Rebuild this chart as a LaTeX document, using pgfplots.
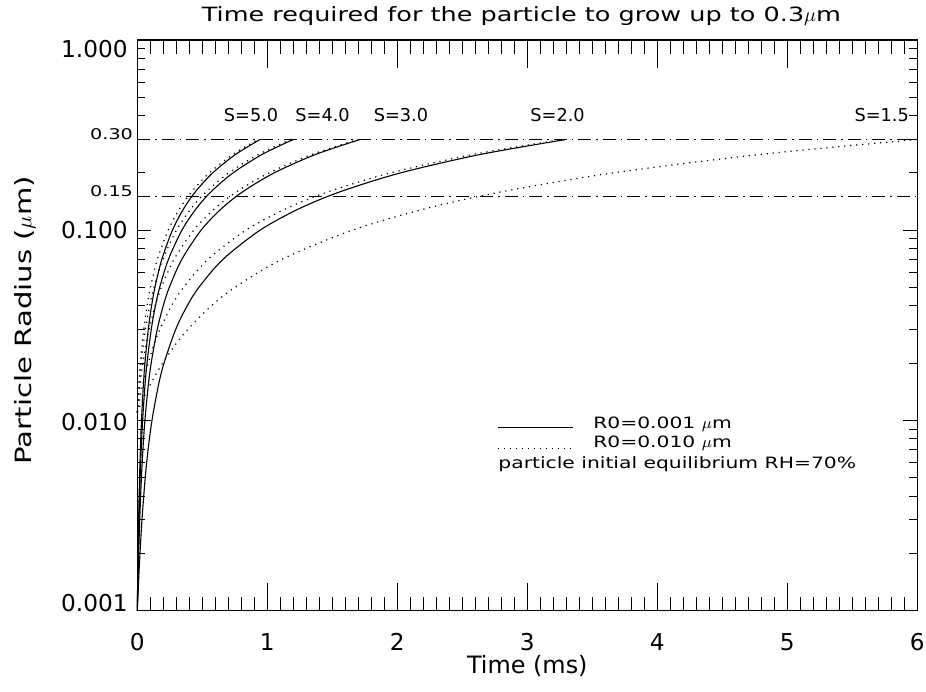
\documentclass[border=0pt]{standalone}
\usepackage{pgfplots}
\pgfplotsset{compat=1.18}
\usepackage{fontspec}
\setmainfont{DejaVu Sans}
\newfontfamily\wide{DejaVu Sans}[FakeStretch=1.3]

\begin{document}
\begin{tikzpicture}
% minor x ticks (short)
\begin{axis}[
  at={(0,0)}, anchor=south west,
  scale only axis, width=390bp, height=285.25bp,
  xmin=0, xmax=6, ymode=log, ymin=0.001, ymax=1,
  axis line style={line width=0.6bp},
  xtick style={line width=0.5bp, black},
  xtick={0,0.1,...,6.05}, xticklabels={},
  ytick=\empty, yminorticks=false,
  major tick length=7bp,
]
\end{axis}
% y ticks
\begin{axis}[
  at={(0,0)}, anchor=south west,
  scale only axis, width=390bp, height=285.25bp,
  xmin=0, xmax=6, ymode=log, ymin=0.001, ymax=1,
  axis line style={line width=0.6bp},
  ytick style={line width=0.5bp, black},
  xtick=\empty,
  ytick={0.001,0.01,0.1,1}, yticklabels={},
  major tick length=7bp, minor tick length=4bp,
]
\end{axis}

\begin{axis}[
  name=ax, at={(0,0)}, anchor=south west,
  scale only axis, width=390bp, height=285.25bp,
  xmin=0, xmax=6, ymode=log, ymin=0.001, ymax=1,
  axis line style={line width=0.6bp},
  clip=false,
  xtick={0,1,2,3,4,5,6}, xticklabels={0,1,2,3,4,5,6},
  xtick style={line width=0.5bp, black},
  ytick={0.001,0.01,0.1,1},
  yminorticks=false,
  yticklabels={\raisebox{3.75bp}{0.001},\raisebox{-0.75bp}{0.010},0.100,\raisebox{-4.25bp}{1.000}},
  ytick style={draw=none},
  major tick length=14bp,
  tick label style={font=\fontsize{11.65}{13}\selectfont},
  xticklabel style={anchor=north, inner sep=0pt, yshift=-11.25bp},
  yticklabel style={anchor=base east, inner sep=0pt, xshift=-4.65bp, yshift=-4.25bp},
]
% reference levels
\addplot[black, line width=0.5bp, dash pattern=on 6.5bp off 2.5bp on 0.75bp off 2.5bp] coordinates {(0,0.3) (6,0.3)};
\addplot[black, line width=0.5bp, dash pattern=on 6.5bp off 2.5bp on 0.75bp off 2.5bp] coordinates {(0,0.15) (6,0.15)};

% R0 = 0.001 (solid)
\addplot[black, line width=0.55bp, smooth, tension=0.5] coordinates {
(0,0.001) (0.00327,0.0015) (0.00592,0.002) (0.0103,0.003) (0.01746,0.005) (0.02372,0.007) (0.03235,0.01) (0.04583,0.015) (0.05884,0.02) (0.08436,0.03) (0.1098,0.04) (0.1355,0.05) (0.1881,0.07) (0.2704,0.1) (0.3574,0.13) (0.4493,0.16) (0.5797,0.2) (0.7552,0.25) (0.945,0.3)};
\addplot[black, line width=0.55bp, smooth, tension=0.5] coordinates {
(0,0.001) (0.00416,0.0015) (0.00751,0.002) (0.01308,0.003) (0.02218,0.005) (0.03012,0.007) (0.04108,0.01) (0.0582,0.015) (0.07471,0.02) (0.1071,0.03) (0.1394,0.04) (0.1721,0.05) (0.2388,0.07) (0.3433,0.1) (0.4538,0.13) (0.5706,0.16) (0.7361,0.2) (0.959,0.25) (1.2,0.3)};
\addplot[black, line width=0.55bp, smooth, tension=0.5] coordinates {
(0,0.001) (0.00594,0.0015) (0.01074,0.002) (0.01869,0.003) (0.03169,0.005) (0.04305,0.007) (0.0587,0.01) (0.08318,0.015) (0.1068,0.02) (0.1531,0.03) (0.1993,0.04) (0.2459,0.05) (0.3413,0.07) (0.4907,0.1) (0.6486,0.13) (0.8155,0.16) (1.052,0.2) (1.3706,0.25) (1.715,0.3)};
\addplot[black, line width=0.55bp, smooth, tension=0.5] coordinates {
(0,0.001) (0.01143,0.0015) (0.02066,0.002) (0.03597,0.003) (0.06098,0.005) (0.08283,0.007) (0.113,0.01) (0.16,0.015) (0.2055,0.02) (0.2946,0.03) (0.3835,0.04) (0.4732,0.05) (0.6567,0.07) (0.9441,0.1) (1.248,0.13) (1.569,0.16) (2.024,0.2) (2.637,0.25) (3.3,0.3)};

% R0 = 0.010 (dotted)
\addplot[black, line width=0.6bp, dash pattern=on 0.6bp off 2.4bp, smooth, tension=0.5] coordinates {
(0,0.011) (0.00271,0.012) (0.00804,0.014) (0.0159,0.017) (0.02366,0.02) (0.03649,0.025) (0.04926,0.03) (0.0749,0.04) (0.1012,0.05) (0.154,0.07) (0.2376,0.1) (0.3263,0.13) (0.4203,0.16) (0.5539,0.2) (0.7343,0.25) (0.93,0.3)};
\addplot[black, line width=0.6bp, dash pattern=on 0.6bp off 2.4bp, smooth, tension=0.5] coordinates {
(0,0.011) (0.00343,0.012) (0.0102,0.014) (0.02018,0.017) (0.03002,0.02) (0.0463,0.025) (0.0625,0.03) (0.09504,0.04) (0.1284,0.05) (0.1954,0.07) (0.3015,0.1) (0.4141,0.13) (0.5332,0.16) (0.7028,0.2) (0.9317,0.25) (1.18,0.3)};
\addplot[black, line width=0.6bp, dash pattern=on 0.6bp off 2.4bp, smooth, tension=0.5] coordinates {
(0,0.011) (0.00495,0.012) (0.01469,0.014) (0.02907,0.017) (0.04325,0.02) (0.06671,0.025) (0.09005,0.03) (0.1369,0.04) (0.185,0.05) (0.2815,0.07) (0.4344,0.1) (0.5965,0.13) (0.7682,0.16) (1.0125,0.2) (1.3423,0.25) (1.70,0.3)};
\addplot[black, line width=0.6bp, dash pattern=on 0.6bp off 2.4bp, smooth, tension=0.5] coordinates {
(0,0.011) (0.00952,0.012) (0.02825,0.014) (0.05592,0.017) (0.08319,0.02) (0.1283,0.025) (0.1732,0.03) (0.2634,0.04) (0.3558,0.05) (0.5415,0.07) (0.8355,0.1) (1.1474,0.13) (1.4777,0.16) (1.9476,0.2) (2.582,0.25) (3.27,0.3)};
\addplot[black, line width=0.6bp, dash pattern=on 0.6bp off 2.4bp, smooth, tension=0.5] coordinates {
(0,0.011) (0.0238,0.012) (0.0693,0.014) (0.1337,0.017) (0.195,0.02) (0.2927,0.025) (0.3869,0.03) (0.5696,0.04) (0.7506,0.05) (1.1064,0.07) (1.6536,0.1) (2.223,0.13) (2.82,0.16) (3.66,0.2) (4.787,0.25) (6.0,0.3)};

% level labels
\node[anchor=base east, inner sep=0pt, font=\wide\fontsize{7.4}{8}\selectfont] at ([xshift=-2bp]axis cs:0,0.3) {0.30};
\node[anchor=base east, inner sep=0pt, font=\wide\fontsize{7.4}{8}\selectfont] at ([xshift=-2bp]axis cs:0,0.15) {0.15};

% supersaturation labels
\node[anchor=base, inner sep=0pt, font=\fontsize{8.9}{10}\selectfont] at (axis cs:0.875,0.3715) {S=5.0};
\node[anchor=base, inner sep=0pt, font=\fontsize{8.9}{10}\selectfont] at (axis cs:1.425,0.3715) {S=4.0};
\node[anchor=base, inner sep=0pt, font=\fontsize{8.9}{10}\selectfont] at (axis cs:2.028,0.3715) {S=3.0};
\node[anchor=base, inner sep=0pt, font=\fontsize{8.9}{10}\selectfont] at (axis cs:3.233,0.3715) {S=2.0};
\node[anchor=base, inner sep=0pt, font=\fontsize{8.9}{10}\selectfont] at (axis cs:5.726,0.3715) {S=1.5};

% legend
\draw[black, line width=0.55bp] (axis cs:2.775,0.00919) -- (axis cs:3.352,0.00919);
\draw[black, line width=0.6bp, dash pattern=on 0.6bp off 2.4bp] (axis cs:2.775,0.00712) -- (axis cs:3.352,0.00712);
\node[anchor=base west, inner sep=0pt, font=\wide\fontsize{7.83}{9}\selectfont] at (axis cs:3.505,0.00908) {R0=0.001 $\mu$m};
\node[anchor=base west, inner sep=0pt, font=\wide\fontsize{7.83}{9}\selectfont] at (axis cs:3.505,0.00721) {R0=0.010 $\mu$m};
\node[anchor=base west, inner sep=0pt, font=\wide\fontsize{7.83}{9}\selectfont] at (axis cs:2.775,0.00559) {particle initial equilibrium RH=70\%};
\end{axis}

\node[anchor=base, inner sep=0pt, font=\wide\fontsize{9.85}{12}\selectfont] at ([xshift=-2.9bp,yshift=9bp]ax.north) {Time required for the particle to grow up to 0.3$\mu$m};
\node[anchor=base, inner sep=0pt, font=\fontsize{12}{14}\selectfont] at ([yshift=-31.5bp]ax.south) {Time (ms)};
\node[anchor=center, rotate=90, inner sep=0pt, font=\wide\fontsize{11.25}{13}\selectfont] at ([xshift=-56.15bp,yshift=2.5bp]ax.west) {Particle Radius ($\mu$m)};

\pgfresetboundingbox
\path[use as bounding box] ([xshift=-68.65bp,yshift=-40.75bp]ax.south west) rectangle ([xshift=4.35bp,yshift=20bp]ax.north east);
\end{tikzpicture}
\end{document}
